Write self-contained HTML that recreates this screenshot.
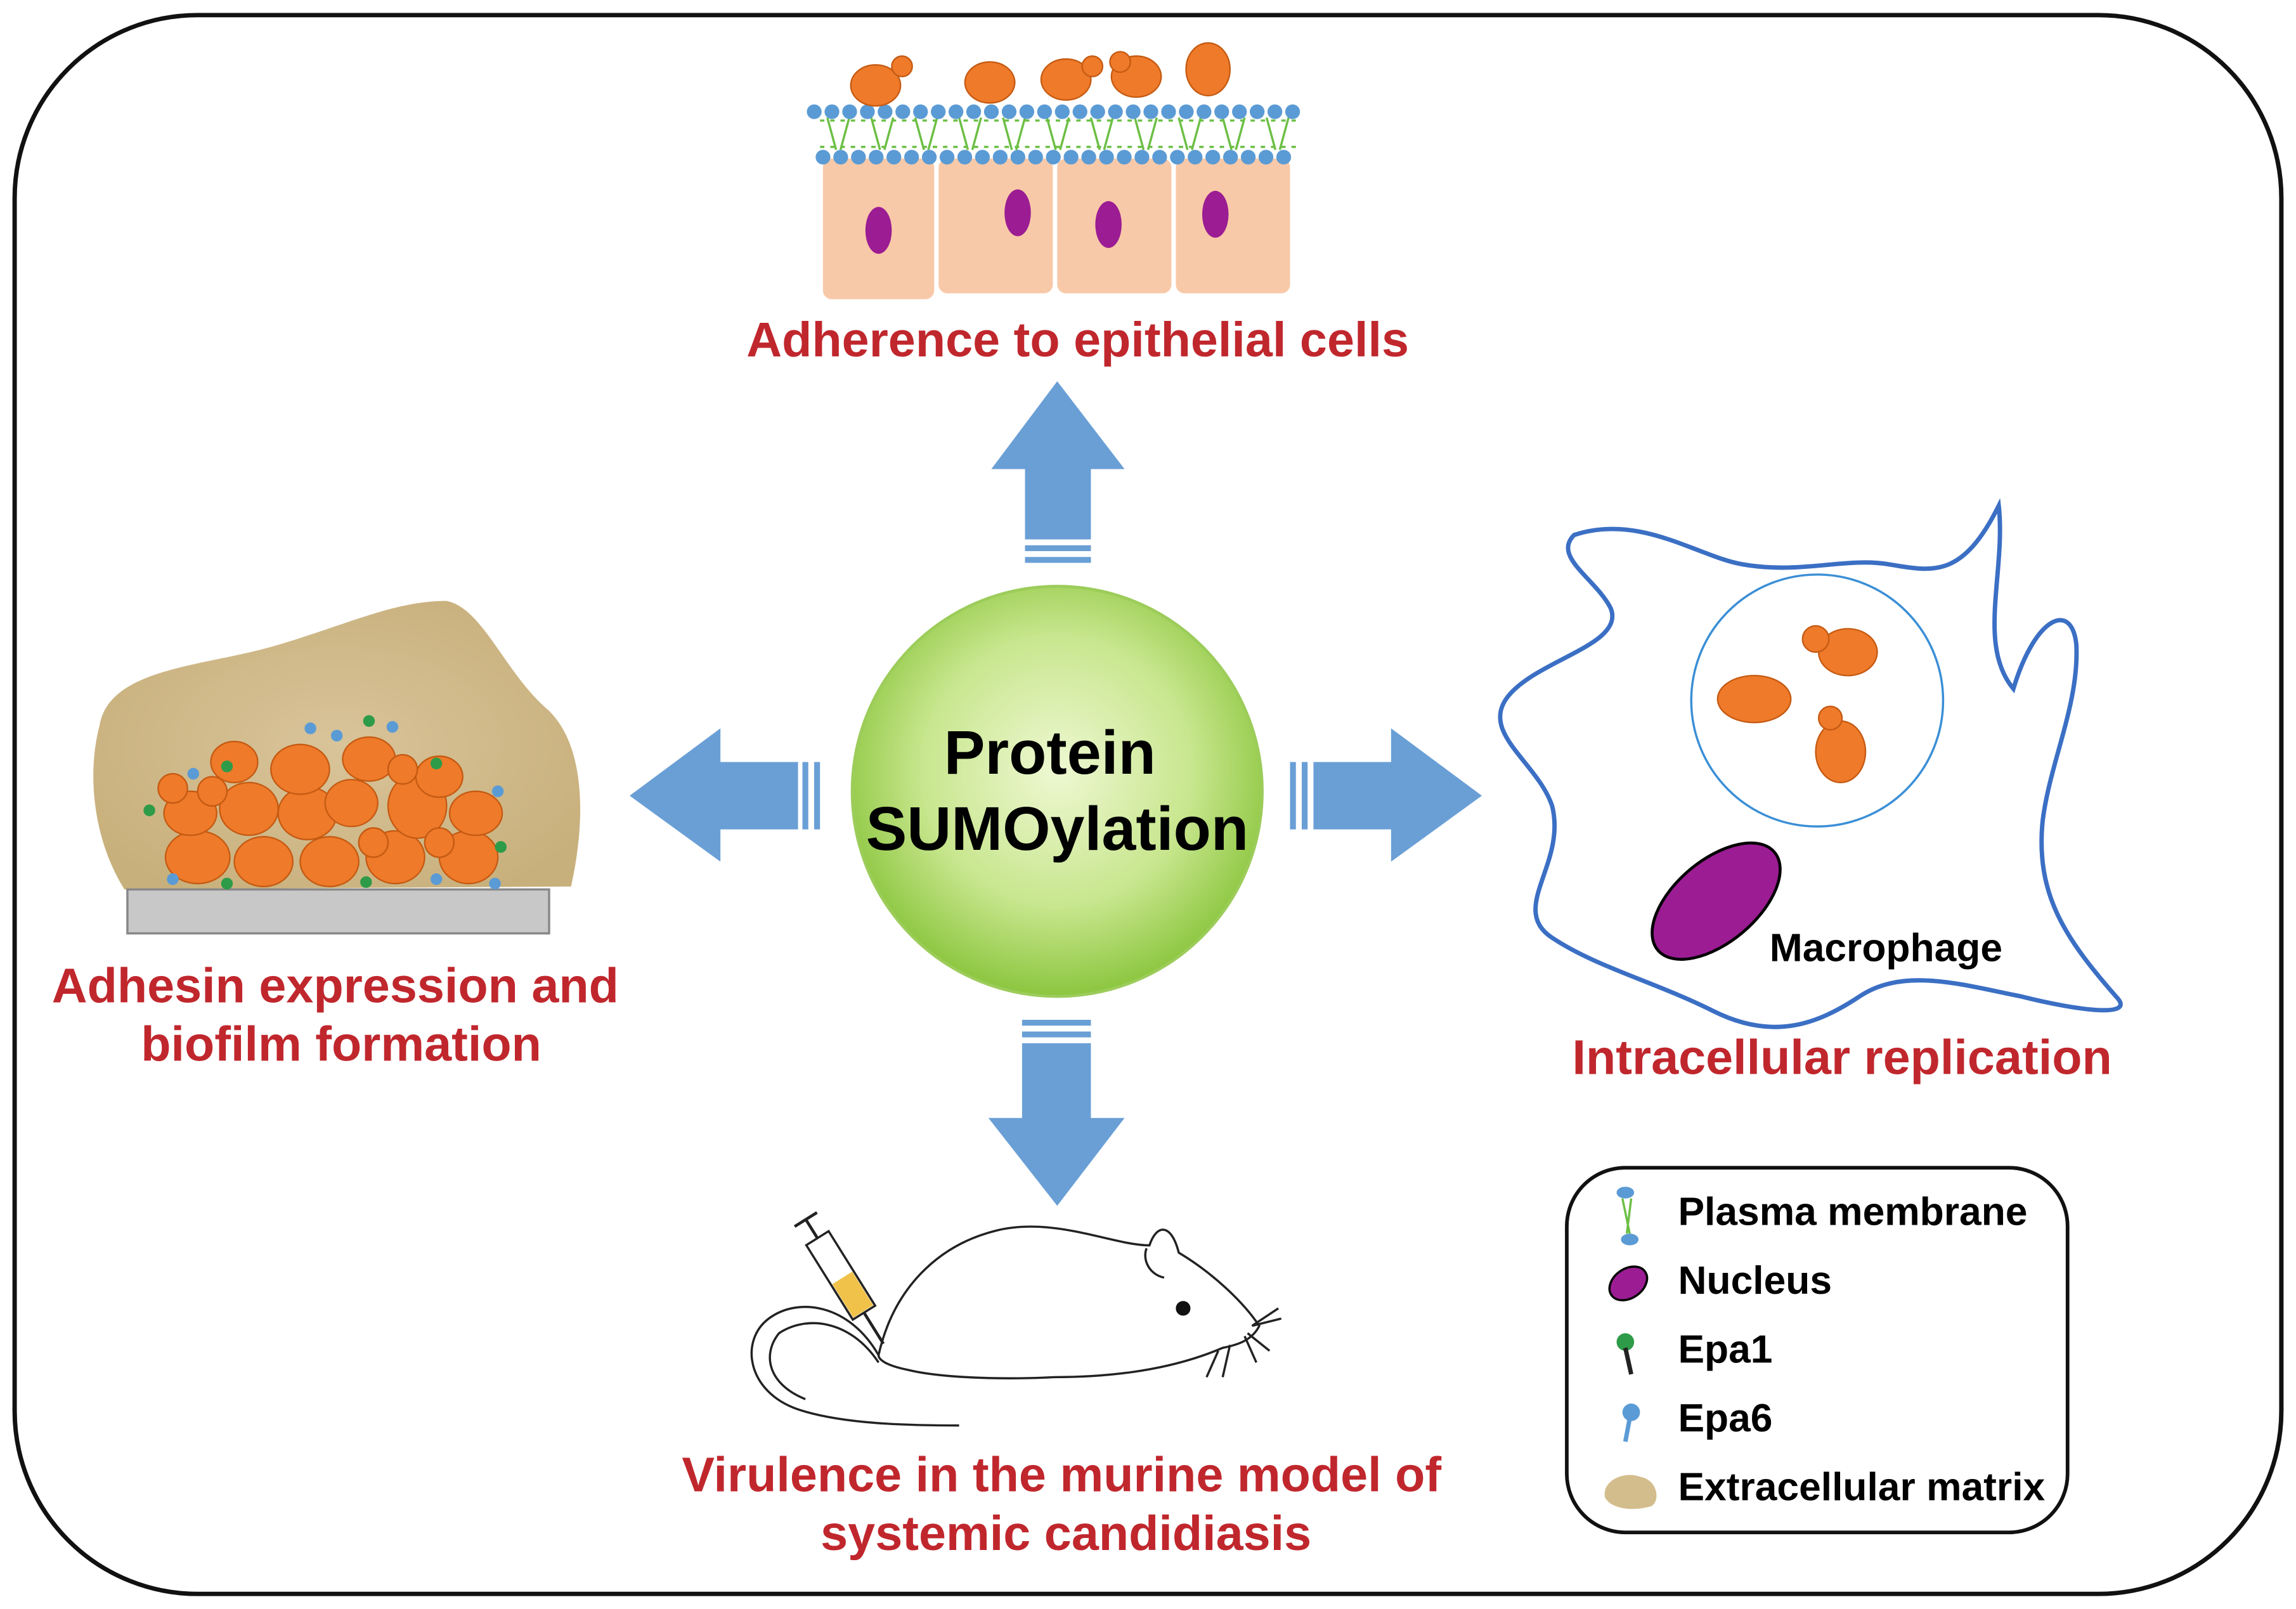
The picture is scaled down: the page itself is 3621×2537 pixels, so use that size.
<!DOCTYPE html>
<html><head><meta charset="utf-8"><style>
html,body{margin:0;padding:0;background:#fff}
svg{display:block}
</style></head><body>
<svg width="3621" height="2537" viewBox="0 0 1568 1098" xmlns="http://www.w3.org/2000/svg" font-family="Liberation Sans, Arial, sans-serif">
<defs>
<radialGradient id="g" cx="0.5" cy="0.45" r="0.55">
<stop offset="0" stop-color="#eef8d2"/><stop offset="0.6" stop-color="#c8e68e"/><stop offset="1" stop-color="#8cc63f"/>
</radialGradient>
<radialGradient id="tan" cx="0.5" cy="0.5" r="0.6">
<stop offset="0" stop-color="#d9c49a"/><stop offset="1" stop-color="#c8b07c"/>
</radialGradient>
</defs>
<rect x="10" y="10" width="1548" height="1078" rx="125" fill="#fff" stroke="#111" stroke-width="3"/>

<!-- epithelial -->
<g>
<rect x="562" y="108" width="76" height="96" rx="6" fill="#f8c9a8"/>
<rect x="641" y="108" width="78" height="92" rx="6" fill="#f8c9a8"/>
<rect x="722" y="108" width="78" height="92" rx="6" fill="#f8c9a8"/>
<rect x="803" y="108" width="78" height="92" rx="6" fill="#f8c9a8"/>
<g stroke="#6cbf45" stroke-width="1.5">
<path d="M560 82 L885 82 M560 100 L885 100" stroke-dasharray="3 4"/>
<path d="M565 80 l6 22 M580 80 l-6 22 M595 80 l6 22 M610 80 l-6 22 M625 80 l6 22 M640 80 l-6 22 M655 80 l6 22 M670 80 l-6 22 M685 80 l6 22 M700 80 l-6 22 M715 80 l6 22 M730 80 l-6 22 M745 80 l6 22 M760 80 l-6 22 M775 80 l6 22 M790 80 l-6 22 M805 80 l6 22 M820 80 l-6 22 M835 80 l6 22 M850 80 l-6 22 M865 80 l6 22 M880 80 l-6 22"/>
</g>
<g fill="#5b9bd5">
<path d="M556 76 H886" stroke="#5b9bd5" stroke-width="10" stroke-linecap="round" stroke-dasharray="0.1 12"/>
<path d="M562 107 H888" stroke="#5b9bd5" stroke-width="10" stroke-linecap="round" stroke-dasharray="0.1 12"/>
</g>
<g fill="#9b1c93">
<ellipse cx="600" cy="157" rx="9" ry="16"/><ellipse cx="695" cy="145" rx="9" ry="16"/>
<ellipse cx="757" cy="153" rx="9" ry="16"/><ellipse cx="830" cy="146" rx="9" ry="16"/>
</g>
<g fill="#ee7a2a" stroke="#c55a12" stroke-width="1">
<ellipse cx="598" cy="58" rx="17" ry="14"/><circle cx="616" cy="45" r="7"/>
<ellipse cx="676" cy="56" rx="17" ry="14"/>
<ellipse cx="728" cy="54" rx="17" ry="14"/><circle cx="746" cy="45" r="7"/>
<ellipse cx="776" cy="52" rx="17" ry="14"/><circle cx="765" cy="42" r="7"/>
<ellipse cx="825" cy="47" rx="15" ry="18"/>
</g>
</g>
<text x="736" y="243" text-anchor="middle" font-size="33.5" font-weight="bold" fill="#c0272d">Adherence to epithelial cells</text>

<!-- arrows -->
<g fill="#6a9fd6">
<path d="M700 368 V320 H677 L722 260 L768 320 H745 V368 Z"/>
<rect x="700" y="372" width="45" height="4"/><rect x="700" y="380" width="45" height="4"/>
<path d="M545 520 H492 V497 L430 543 L492 588 V566 H545 Z"/>
<rect x="548" y="520" width="4" height="46"/><rect x="556" y="520" width="4" height="46"/>
<path d="M897 520 H950 V497 L1012 543 L950 588 V566 H897 Z"/>
<rect x="881" y="520" width="4" height="46"/><rect x="889" y="520" width="4" height="46"/>
<path d="M698 712 V763 H675 L722 823 L768 763 H745 V712 Z"/>
<rect x="698" y="696" width="47" height="4"/><rect x="698" y="704" width="47" height="4"/>
</g>

<circle cx="722" cy="540" r="140" fill="url(#g)" stroke="#9ccc5a" stroke-width="2"/>
<text x="717" y="528" text-anchor="middle" font-size="42" font-weight="bold" fill="#000">Protein</text>
<text x="722" y="580" text-anchor="middle" font-size="42" font-weight="bold" fill="#000">SUMOylation</text>

<!-- biofilm -->
<path d="M68 495 C75 455 140 455 190 440 C240 425 270 410 305 410 C330 415 345 460 375 485 C400 510 400 560 390 605 L85 607 C62 570 60 525 68 495 Z" fill="url(#tan)"/>
<rect x="87" y="607" width="288" height="30" fill="#c8c8c8" stroke="#888" stroke-width="1.5"/>
<g fill="#ee7a2a" stroke="#c55a12" stroke-width="1">
<ellipse cx="135" cy="585" rx="22" ry="18"/><ellipse cx="180" cy="588" rx="20" ry="17"/><ellipse cx="225" cy="588" rx="20" ry="17"/>
<ellipse cx="270" cy="585" rx="20" ry="18"/><ellipse cx="320" cy="585" rx="20" ry="18"/>
<ellipse cx="130" cy="555" rx="18" ry="15"/><ellipse cx="170" cy="552" rx="20" ry="18"/><ellipse cx="210" cy="555" rx="20" ry="18"/>
<ellipse cx="240" cy="548" rx="18" ry="16"/><ellipse cx="285" cy="550" rx="20" ry="22"/><ellipse cx="325" cy="555" rx="18" ry="15"/>
<ellipse cx="160" cy="520" rx="16" ry="14"/><ellipse cx="205" cy="525" rx="20" ry="17"/><ellipse cx="252" cy="518" rx="18" ry="15"/>
<ellipse cx="300" cy="530" rx="16" ry="14"/><ellipse cx="118" cy="538" rx="10" ry="10"/><ellipse cx="145" cy="540" rx="10" ry="10"/>
<ellipse cx="275" cy="525" rx="10" ry="10"/><ellipse cx="255" cy="575" rx="10" ry="10"/><ellipse cx="300" cy="575" rx="10" ry="10"/>
</g>
<g fill="#2e9b48"><circle cx="102" cy="553" r="4"/><circle cx="155" cy="523" r="4"/><circle cx="252" cy="492" r="4"/><circle cx="298" cy="521" r="4"/><circle cx="342" cy="578" r="4"/><circle cx="155" cy="603" r="4"/><circle cx="250" cy="602" r="4"/></g>
<g fill="#5b9bd5"><circle cx="132" cy="528" r="4"/><circle cx="212" cy="497" r="4"/><circle cx="268" cy="496" r="4"/><circle cx="340" cy="540" r="4"/><circle cx="118" cy="600" r="4"/><circle cx="298" cy="600" r="4"/><circle cx="338" cy="603" r="4"/><circle cx="230" cy="502" r="4"/></g>
<text x="229" y="684" text-anchor="middle" font-size="33.5" font-weight="bold" fill="#c0272d">Adhesin expression and</text>
<text x="233" y="724" text-anchor="middle" font-size="33.5" font-weight="bold" fill="#c0272d">biofilm formation</text>

<!-- macrophage -->
<path d="M1075 365 C1120 350 1160 380 1190 385 C1230 392 1260 380 1290 385 C1320 390 1340 395 1365 345 C1370 390 1350 440 1375 470 C1390 420 1415 410 1418 440 C1420 480 1400 520 1395 560 C1390 610 1410 640 1445 680 C1460 695 1420 690 1380 680 C1340 672 1300 660 1270 680 C1240 700 1210 710 1170 690 C1130 670 1090 660 1060 640 C1030 620 1070 590 1060 550 C1050 520 1010 500 1030 475 C1050 450 1110 440 1100 415 C1090 395 1060 380 1075 365 Z" fill="none" stroke="#3b6fc4" stroke-width="3"/>
<circle cx="1241" cy="478" r="86" fill="none" stroke="#3b8fd6" stroke-width="1.5"/>
<g fill="#ee7a2a" stroke="#c55a12" stroke-width="1">
<ellipse cx="1198" cy="477" rx="25" ry="16"/>
<ellipse cx="1262" cy="445" rx="20" ry="16"/><circle cx="1240" cy="436" r="9"/>
<ellipse cx="1257" cy="513" rx="17" ry="21"/><circle cx="1250" cy="490" r="8"/>
</g>
<ellipse cx="1172" cy="615" rx="52" ry="28" transform="rotate(-40 1172 615)" fill="#9b1c93" stroke="#000" stroke-width="2"/>
<text x="1288" y="656" text-anchor="middle" font-size="27" font-weight="bold" fill="#000">Macrophage</text>
<text x="1258" y="733" text-anchor="middle" font-size="33.5" font-weight="bold" fill="#c0272d">Intracellular replication</text>

<!-- mouse -->
<g fill="none" stroke="#222" stroke-width="1.5">
<path d="M600 925 C610 880 640 850 680 840 C720 830 760 850 785 850 C790 835 800 835 805 855 C830 870 850 890 860 905 C855 915 845 918 835 920 C800 935 760 940 720 940 C680 942 640 940 620 935 C605 932 600 928 600 925 Z"/>
<path d="M783 852 C780 860 785 870 795 872"/>
<path d="M600 925 C580 890 545 885 525 900 C505 915 510 950 545 962 C575 972 620 973 655 973"/>
<path d="M600 930 C580 900 550 898 532 910 C520 925 525 945 550 955"/>
<path d="M855 905 l18 -12 M855 905 l20 -5 M852 910 l15 12 M850 912 l8 18 M840 918 l-5 22 M832 922 l-8 18"/>
</g>
<circle cx="808" cy="893" r="5" fill="#111"/>
<g transform="rotate(-32 575 870)">
<rect x="565" y="840" width="18" height="60" fill="#fff" stroke="#222" stroke-width="1.5"/>
<rect x="566" y="872" width="16" height="27" fill="#f0c24a"/>
<path d="M574 840 V825 M565 825 H583 M574 900 V925" stroke="#222" stroke-width="2"/>
</g>
<text x="725" y="1018" text-anchor="middle" font-size="33.5" font-weight="bold" fill="#c0272d">Virulence in the murine model of</text>
<text x="728" y="1058" text-anchor="middle" font-size="33.5" font-weight="bold" fill="#c0272d">systemic candidiasis</text>

<!-- legend -->
<rect x="1070" y="797" width="342" height="249" rx="40" fill="#fff" stroke="#111" stroke-width="2.5"/>
<g>
<ellipse cx="1110" cy="814" rx="6" ry="4" fill="#5b9bd5"/><ellipse cx="1113" cy="846" rx="6" ry="4" fill="#5b9bd5"/>
<path d="M1108 818 l5 24 M1114 818 l-3 24" stroke="#6cbf45" stroke-width="1.5"/>
<ellipse cx="1112" cy="876" rx="14" ry="10" transform="rotate(-35 1112 876)" fill="#9b1c93" stroke="#000" stroke-width="1.5"/>
<circle cx="1110" cy="916" r="6" fill="#2e9b48"/><path d="M1110 920 l4 18" stroke="#222" stroke-width="3"/>
<circle cx="1114" cy="964" r="6" fill="#5b9bd5"/><path d="M1113 968 l-3 16" stroke="#5b9bd5" stroke-width="3"/>
<path d="M1096 1022 C1094 1010 1110 1004 1120 1008 C1132 1010 1134 1024 1128 1028 C1115 1032 1100 1030 1096 1022 Z" fill="#d4bd8c"/>
</g>
<g font-size="27" font-weight="bold" fill="#000">
<text x="1146" y="836">Plasma membrane</text>
<text x="1146" y="883">Nucleus</text>
<text x="1146" y="930">Epa1</text>
<text x="1146" y="977">Epa6</text>
<text x="1146" y="1024">Extracellular matrix</text>
</g>
</svg>
</body></html>
